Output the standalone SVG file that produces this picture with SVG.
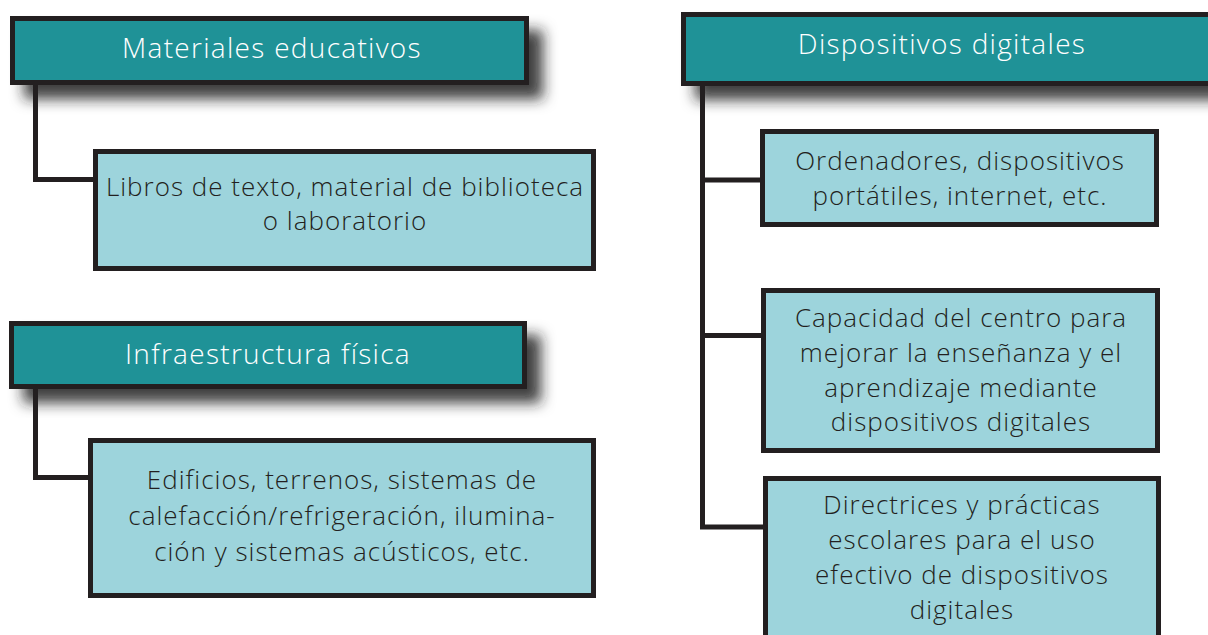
<svg xmlns="http://www.w3.org/2000/svg" width="1208" height="635" viewBox="0 0 1208 635">
<defs>
<filter id="sh" x="-10%" y="-30%" width="130%" height="180%">
<feDropShadow dx="14" dy="14" stdDeviation="7" flood-color="#231f20" flood-opacity="0.85"/>
</filter>
<style>
.hd{fill:#1f9297;stroke:#231f20;stroke-width:5}
.ch{fill:#9dd4dc;stroke:#231f20;stroke-width:5}
.ht{font-family:"Open Sans","Noto Sans","Liberation Sans",sans-serif;font-weight:300;font-size:28px;letter-spacing:1.3px;fill:#ffffff;text-anchor:middle}
.ct{font-family:"Open Sans","Noto Sans","Liberation Sans",sans-serif;font-weight:300;font-size:26px;letter-spacing:1px;fill:#231f20;text-anchor:middle}
.cn{fill:none;stroke:#231f20;stroke-width:5}
</style>
</defs>
<rect width="1208" height="635" fill="#ffffff"/>
<g id="header-shadows">
<rect class="hd" x="12.5" y="18.5" width="514" height="64" filter="url(#sh)"/>
<rect class="hd" x="11.5" y="323.5" width="513" height="63" filter="url(#sh)"/>
<rect class="hd" x="683.5" y="14.5" width="530" height="69" filter="url(#sh)"/>
</g>
<g id="connectors">
<path class="cn" d="M35.5,85 V179.5 H93"/>
<path class="cn" d="M35.5,389 V477.5 H88"/>
<path class="cn" d="M702.5,86 V527 H768"/>
<path class="cn" d="M702.5,180 H760"/>
<path class="cn" d="M702.5,335.5 H761"/>
</g>
<g id="materiales-educativos">
<rect class="hd" x="12.5" y="18.5" width="514" height="64"/>
<text class="ht" x="272" y="58">Materiales educativos</text>
</g>
<g id="libros">
<rect class="ch" x="95.5" y="151.5" width="498" height="117"/>
<text class="ct" x="345" y="196">Libros de texto, material de biblioteca</text>
<text class="ct" x="345" y="230">o laboratorio</text>
</g>
<g id="infraestructura-fisica">
<rect class="hd" x="11.5" y="323.5" width="513" height="63"/>
<text class="ht" x="268" y="364">Infraestructura física</text>
</g>
<g id="edificios">
<rect class="ch" x="90.5" y="440.5" width="503" height="155"/>
<text class="ct" x="342" y="489">Edificios, terrenos, sistemas de</text>
<text class="ct" x="342" y="525">calefacción/refrigeración, ilumina-</text>
<text class="ct" x="342" y="561">ción y sistemas acústicos, etc.</text>
</g>
<g id="dispositivos-digitales">
<rect class="hd" x="683.5" y="14.5" width="530" height="69"/>
<text class="ht" x="942" y="54">Dispositivos digitales</text>
</g>
<g id="ordenadores">
<rect class="ch" x="762.5" y="131.5" width="394" height="93"/>
<text class="ct" x="960" y="170">Ordenadores, dispositivos</text>
<text class="ct" x="960" y="205">portátiles, internet, etc.</text>
</g>
<g id="capacidad">
<rect class="ch" x="763.5" y="290.5" width="394" height="160"/>
<text class="ct" x="961" y="327">Capacidad del centro para</text>
<text class="ct" x="961" y="362">mejorar la enseñanza y el</text>
<text class="ct" x="961" y="397">aprendizaje mediante</text>
<text class="ct" x="961" y="431">dispositivos digitales</text>
</g>
<g id="directrices">
<rect class="ch" x="765.5" y="478.5" width="393" height="170"/>
<text class="ct" x="962" y="514">Directrices y prácticas</text>
<text class="ct" x="962" y="549">escolares para el uso</text>
<text class="ct" x="962" y="584">efectivo de dispositivos</text>
<text class="ct" x="962" y="619">digitales</text>
</g>
</svg>
